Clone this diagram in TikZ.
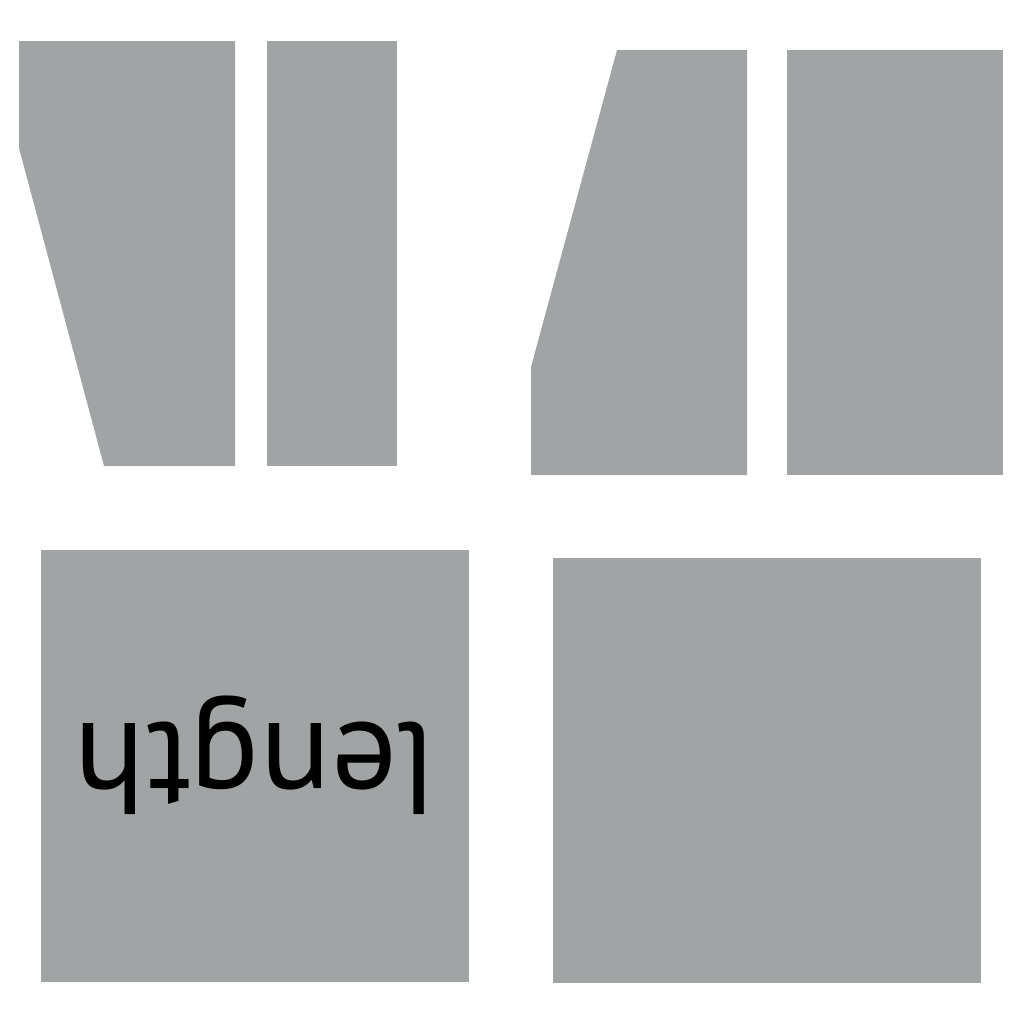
\documentclass[tikz,border=0pt]{standalone}
\usepackage{fontspec}
\setmainfont{PT Sans}
\usetikzlibrary{positioning}
\definecolor{panelgray}{RGB}{161,164,165}
\tikzset{
	panel/.style={
		fill=panelgray,
		draw=none},
	lengthtext/.style={
		font=\fontsize{37}{44}\selectfont,
		rotate=180,
		anchor=base,
		inner sep=0pt},
}

\begin{document}
\begin{tikzpicture}
	[x=0.01cm, y=-0.01cm]

\useasboundingbox (0,0) rectangle (1024,1024);

% top left pair
\fill[panel] (19,41) -- (235,41) -- (235,466) -- (104,466) -- (19,148) -- cycle;
\fill[panel] (267,41) rectangle (397,466);

% top right pair
\fill[panel] (617,50) -- (747,50) -- (747,475) -- (531,475) -- (531,367) -- cycle;
\fill[panel] (787,50) rectangle (1003,475);

% bottom squares
\fill[panel] (41,550) rectangle (469,982);
\fill[panel] (553,558) rectangle (981,983);

\node[lengthtext] (len) at (255,723) {length};
\end{tikzpicture}
\end{document}
